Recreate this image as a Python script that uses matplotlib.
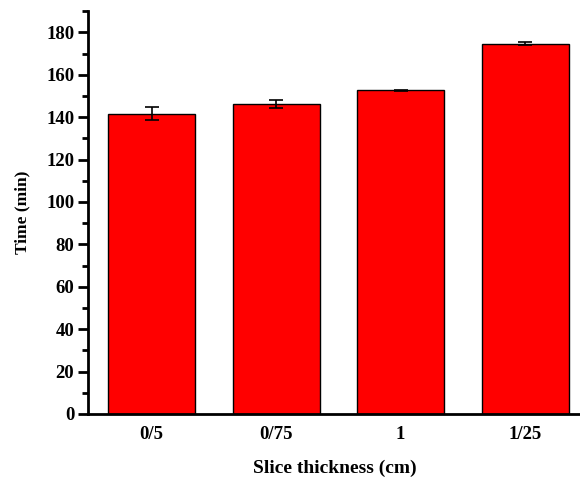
import numpy as np
import matplotlib
matplotlib.use("Agg")
import matplotlib.pyplot as plt
from matplotlib.ticker import MultipleLocator

thickness = ["0/5", "0/75", "1", "1/25"]
time_min = [141.6, 146.2, 152.6, 174.7]
time_err = [3.1, 1.9, 0.4, 0.8]

plt.rcParams['font.family'] = ['Liberation Serif', 'DejaVu Serif']
plt.rcParams['font.weight'] = 'bold'

fig = plt.figure(figsize=(5.8, 4.83), dpi=100)
ax = fig.add_axes([0.152, 0.143, 0.85, 0.834])

x = np.arange(len(thickness))
ax.bar(x, time_min, width=0.70, color='#ff0000', edgecolor='black', linewidth=1.0,
       yerr=time_err, capsize=5, error_kw=dict(elinewidth=1.2, capthick=1.2, ecolor='black'))

ax.set_xlim(-0.51, 3.45)
ax.set_ylim(0, 190)
ax.yaxis.set_major_locator(MultipleLocator(20))
ax.yaxis.set_minor_locator(MultipleLocator(10))
ax.set_yticks(np.arange(0, 181, 20))
ax.set_xticks(x)
ax.set_xticklabels(thickness)

# only left and bottom axis lines
for side in ['top', 'right']:
    ax.spines[side].set_visible(False)
ax.spines['left'].set_linewidth(2)
ax.spines['bottom'].set_linewidth(2)

ax.tick_params(axis='y', which='major', direction='out', length=7, width=2, labelsize=13.5, pad=3)
ax.tick_params(axis='y', which='minor', direction='out', length=4, width=2)
ax.tick_params(axis='x', which='both', length=0, labelsize=13.5, pad=9)

for lab in ax.get_xticklabels() + ax.get_yticklabels():
    lab.set_fontweight('bold')

ax.set_xlabel("Slice thickness (cm)", fontsize=14, fontweight='bold', labelpad=12)
ax.set_ylabel("Time (min)", fontsize=12.5, fontweight='bold', labelpad=11)

fig.savefig("out.png", dpi=100)
